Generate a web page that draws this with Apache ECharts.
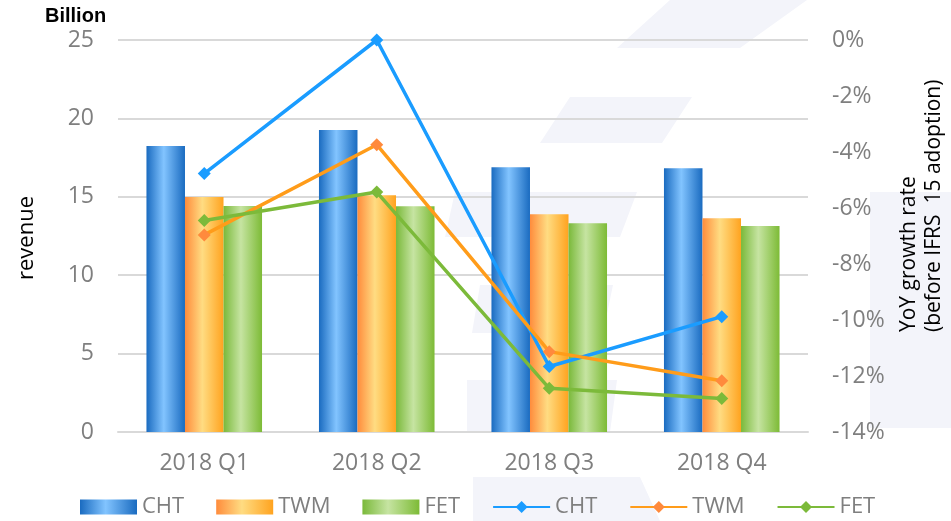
<!DOCTYPE html>
<html>
<head>
<meta charset="utf-8">
<script src="https://cdn.jsdelivr.net/npm/echarts@6/dist/echarts.min.js"></script>
<style>
  html, body { margin: 0; padding: 0; background: #fff; }
  #chart { width: 951px; height: 521px; }
</style>
</head>
<body>
<div id="chart"></div>
<script>
var quarters = ["2018 Q1", "2018 Q2", "2018 Q3", "2018 Q4"];

// revenue, billion
var chtRevenue = [18.24, 19.26, 16.88, 16.82];
var twmRevenue = [14.99, 15.10, 13.88, 13.63];
var fetRevenue = [14.41, 14.40, 13.31, 13.14];

// YoY growth rate, %
var chtGrowth = [-4.77, 0.0, -11.66, -9.88];
var twmGrowth = [-6.96, -3.74, -11.13, -12.17];
var fetGrowth = [-6.45, -5.43, -12.44, -12.80];

var revenueTicks = { min: 0, max: 25, step: 5 };
var growthTicks = { min: -14, max: 0, step: 2 };

var FONT = "'Open Sans', 'Noto Sans', sans-serif";
var GREY = "#7f7f7f";
var WATERMARK = "#f3f4fa";

function barFill(edge, mid, right) {
  return new echarts.graphic.LinearGradient(0, 0, 1, 0, [
    { offset: 0, color: edge },
    { offset: 0.45, color: mid },
    { offset: 1, color: right }
  ]);
}

// faint background logo behind the plot
function wm(points) {
  return { type: "polygon", z: -10, silent: true, shape: { points: points }, style: { fill: WATERMARK } };
}

var chart = echarts.init(document.getElementById("chart"));

var barStyle = function (fill) {
  return {
    type: "bar",
    yAxisIndex: 0,
    barGap: "0%",
    barCategoryGap: "33%",
    itemStyle: { color: fill }
  };
};

var lineStyle = function (color, marker) {
  return {
    type: "line",
    yAxisIndex: 1,
    symbol: "diamond",
    symbolSize: 13,
    lineStyle: { color: color, width: 3.5 },
    itemStyle: { color: marker || color },
    z: 5
  };
};

var series = [
  Object.assign(barStyle(barFill("#1a6bc0", "#82c4ff", "#1a6bc0")), { name: "CHT bar", data: chtRevenue }),
  Object.assign(barStyle(barFill("#ff8c3c", "#ffdc82", "#ffa31f")), { name: "TWM bar", data: twmRevenue }),
  Object.assign(barStyle(barFill("#7ab93a", "#c6e4a2", "#7dbb36")), { name: "FET bar", data: fetRevenue }),
  Object.assign(lineStyle("#1a9cff"), { name: "CHT line", data: chtGrowth }),
  Object.assign(lineStyle("#ff9c1a", "#ff8a3d"), { name: "TWM line", data: twmGrowth }),
  Object.assign(lineStyle("#7cba3a"), { name: "FET line", data: fetGrowth })
];

chart.setOption({
  animation: false,
  textStyle: { fontFamily: FONT },
  grid: { left: 118, right: 143, top: 40, bottom: 89 },
  legend: {
    left: 80,
    top: 496,
    padding: 0,
    itemWidth: 57,
    itemHeight: 15,
    itemGap: 32,
    data: series.map(function (s) {
      return s.type === "bar" ? { name: s.name, icon: "rect" } : { name: s.name };
    }),
    formatter: function (n) { return n.split(" ")[0]; },
    textStyle: { color: GREY, fontSize: 22, fontFamily: FONT }
  },
  xAxis: {
    type: "category",
    data: quarters,
    axisTick: { show: false },
    axisLine: { lineStyle: { color: "#d9d9d9", width: 2 } },
    axisLabel: { color: GREY, fontSize: 23, margin: 20 }
  },
  yAxis: [
    {
      type: "value",
      min: revenueTicks.min,
      max: revenueTicks.max,
      interval: revenueTicks.step,
      axisLine: { show: false },
      axisTick: { show: false },
      axisLabel: { color: GREY, fontSize: 23, margin: 24 },
      splitLine: { lineStyle: { color: "#d9d9d9", width: 2 } }
    },
    {
      type: "value",
      min: growthTicks.min,
      max: growthTicks.max,
      interval: growthTicks.step,
      axisLine: { show: false },
      axisTick: { show: false },
      axisLabel: { color: GREY, fontSize: 23, margin: 24, formatter: "{value}%" },
      splitLine: { show: false }
    }
  ],
  graphic: [
    wm([[670, 0], [807, 0], [740, 48], [617, 48]]),
    wm([[570, 97], [692, 97], [662, 143], [540, 143]]),
    wm([[455, 192], [637, 192], [620, 237], [445, 237]]),
    wm([[480, 285], [613, 285], [603, 333], [472, 333]]),
    wm([[467, 380], [617, 380], [610, 432], [467, 432]]),
    wm([[473, 477], [640, 477], [660, 521], [473, 521]]),
    wm([[870, 192], [951, 192], [951, 428], [870, 428]]),
    {
      type: "text",
      x: 45,
      y: 16,
      style: {
        text: "Billion",
        font: "bold 20px 'Liberation Sans', Arial, sans-serif",
        fill: "#000",
        textVerticalAlign: "middle"
      }
    },
    {
      type: "text",
      x: 16,
      y: 280,
      rotation: Math.PI / 2,
      style: { text: "revenue", font: "22px " + FONT, fill: "#000", textAlign: "left", textBaseline: "middle" }
    },
    {
      type: "text",
      x: 897,
      y: 332,
      rotation: Math.PI / 2,
      style: {
        text: "YoY growth rate\n(before IFRS  15 adoption)",
        font: "21px " + FONT,
        lineHeight: 25,
        fill: "#000",
        textAlign: "left",
        textBaseline: "middle"
      }
    }
  ],
  series: series
});
</script>
</body>
</html>
